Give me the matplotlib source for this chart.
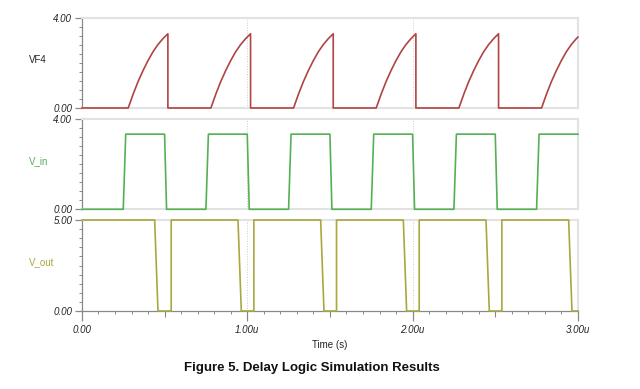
#!/usr/bin/env python
import matplotlib
matplotlib.use('Agg')
import matplotlib.pyplot as plt
from matplotlib.ticker import MultipleLocator, FixedLocator, NullFormatter

plt.rcParams['font.family'] = ['Liberation Sans', 'DejaVu Sans']

# time in microseconds, values in volts
vf4_t = [0.00, 0.28, 0.31, 0.34, 0.37, 0.40, 0.43, 0.46, 0.49, 0.52, 0.52,
         0.78, 0.81, 0.84, 0.87, 0.90, 0.93, 0.96, 0.99, 1.02, 1.02,
         1.28, 1.31, 1.34, 1.37, 1.40, 1.43, 1.46, 1.49, 1.52, 1.52,
         1.78, 1.81, 1.84, 1.87, 1.90, 1.93, 1.96, 1.99, 2.02, 2.02,
         2.28, 2.31, 2.34, 2.37, 2.40, 2.43, 2.46, 2.49, 2.52, 2.52,
         2.78, 2.81, 2.84, 2.87, 2.90, 2.93, 2.96, 2.99, 3.00]
vf4_v = [0.00, 0.00, 0.62, 1.18, 1.67, 2.11, 2.50, 2.82, 3.08, 3.30, 0.00,
         0.00, 0.62, 1.18, 1.67, 2.11, 2.50, 2.82, 3.08, 3.30, 0.00,
         0.00, 0.62, 1.18, 1.67, 2.11, 2.50, 2.82, 3.08, 3.30, 0.00,
         0.00, 0.62, 1.18, 1.67, 2.11, 2.50, 2.82, 3.08, 3.30, 0.00,
         0.00, 0.62, 1.18, 1.67, 2.11, 2.50, 2.82, 3.08, 3.30, 0.00,
         0.00, 0.62, 1.18, 1.67, 2.11, 2.50, 2.82, 3.08, 3.15]

vin_t = [0.00, 0.25, 0.265, 0.50, 0.512, 0.75, 0.765, 1.00, 1.012,
         1.25, 1.265, 1.50, 1.512, 1.75, 1.765, 2.00, 2.012,
         2.25, 2.265, 2.50, 2.512, 2.75, 2.765, 3.00]
vin_v = [0.00, 0.00, 3.33, 3.33, 0.00, 0.00, 3.33, 3.33, 0.00,
         0.00, 3.33, 3.33, 0.00, 0.00, 3.33, 3.33, 0.00,
         0.00, 3.33, 3.33, 0.00, 0.00, 3.33, 3.33]

vout_t = [0.00, 0.44, 0.46, 0.54, 0.54, 0.944, 0.964, 1.04, 1.04,
          1.444, 1.464, 1.54, 1.54, 1.944, 1.964, 2.04, 2.04,
          2.444, 2.464, 2.54, 2.54, 2.944, 2.964, 3.00]
vout_v = [5.00, 5.00, 0.00, 0.00, 5.00, 5.00, 0.00, 0.00, 5.00,
          5.00, 0.00, 0.00, 5.00, 5.00, 0.00, 0.00, 5.00,
          5.00, 0.00, 0.00, 5.00, 5.00, 0.00, 0.00]

signals = [
    ('VF4', vf4_t, vf4_v, 4.0, '#b04444', '#222222'),
    ('V_in', vin_t, vin_v, 4.0, '#55b055', '#55b055'),
    ('V_out', vout_t, vout_v, 5.0, '#a8a840', '#a8a840'),
]
x_ticks = [0, 1, 2, 3]
x_labels = ['0.00', '1.00u', '2.00u', '3.00u']

fig = plt.figure(figsize=(6.4, 3.89), dpi=100)
left, width = 0.128, 0.775
rows = [(0.7224, 0.2313), (0.4620, 0.2320), (0.2005, 0.2339)]

frame_col = '#e2e2e2'
axis_col = '#888888'
tick_font = dict(fontsize=7, style='italic', color='#222222')

for i, (name, t, v, top, col, lcol) in enumerate(signals):
    bottom, h = rows[i]
    ax = fig.add_axes([left, bottom, width, h])
    ax.plot(t, v, color=col, lw=1.2, clip_on=False, zorder=3)
    ax.set_xlim(0, 3)
    ax.set_ylim(0, top)
    for s in ['top', 'right', 'bottom']:
        ax.spines[s].set_color(frame_col)
        ax.spines[s].set_linewidth(1.5)
    ax.spines['left'].set_color(axis_col)
    ax.spines['left'].set_linewidth(0.9)

    # vertical dotted grid at 1u and 2u
    for g in [1, 2]:
        ax.axvline(g, color='#cccccc', lw=0.7, ls=':', zorder=1)

    ax.set_yticks([0, top])
    ax.set_yticklabels(['0.00', '%.2f' % top], **tick_font)
    ax.yaxis.set_minor_locator(MultipleLocator(top / 10.0))
    ax.tick_params(axis='y', which='major', length=5, width=0.9, color=axis_col, pad=2)
    ax.tick_params(axis='y', which='minor', length=2.5, width=0.7, color=axis_col)

    ax.text(-0.107, 0.535, name, transform=ax.transAxes, fontsize=7,
            color=lcol, ha='left', va='center')

    if i < 2:
        ax.set_xticks([])
        ax.tick_params(axis='x', which='both', length=0)
    else:
        ax.spines['bottom'].set_color(axis_col)
        ax.spines['bottom'].set_linewidth(0.9)
        ax.set_xticks(x_ticks)
        ax.set_xticklabels(x_labels, **tick_font)
        ax.xaxis.set_minor_locator(MultipleLocator(0.1))
        ax.tick_params(axis='x', which='major', length=7, width=0.9, color=axis_col, pad=3)
        ax.tick_params(axis='x', which='minor', length=2.5, width=0.7, color=axis_col)
        sec = ax.secondary_xaxis('bottom')
        sec.xaxis.set_major_locator(FixedLocator([0.5, 1.5, 2.5]))
        sec.xaxis.set_major_formatter(NullFormatter())
        sec.tick_params(length=4.5, width=0.8, color=axis_col)
        sec.spines['bottom'].set_visible(False)
        ax.set_xlabel('Time (s)', fontsize=7, color='#222222', labelpad=4)

fig.text(0.488, 0.053, 'Figure 5. Delay Logic Simulation Results',
         fontsize=9.5, fontweight='bold', ha='center', va='center', color='#111111')

fig.savefig('out.png', dpi=100)
